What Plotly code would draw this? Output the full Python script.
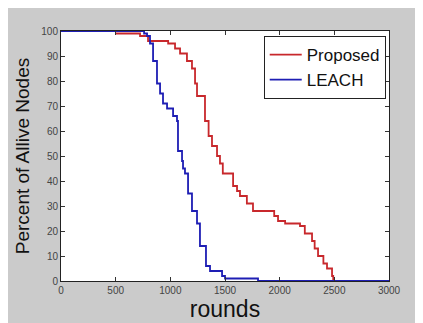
import plotly.graph_objects as go

proposed_rounds = [500, 723, 796, 980, 1043, 1089, 1152, 1198, 1226, 1244, 1317, 1350, 1381, 1427, 1454, 1480, 1528, 1574, 1610, 1637, 1700, 1756, 1912, 1950, 1985, 2050, 2113, 2186, 2230, 2296, 2320, 2351, 2400, 2433, 2479, 2490]
proposed_pct = [99, 98, 96, 95, 93, 91, 88, 85, 79, 74, 64, 58, 54, 50, 47, 43, 43, 38, 36, 34, 31, 28, 28, 26, 24, 23, 23, 22, 19, 16, 13, 10, 7, 5, 2, 0]

leach_rounds = [0, 760, 787, 814, 842, 878, 906, 933, 970, 1025, 1061, 1070, 1107, 1116, 1134, 1162, 1198, 1244, 1271, 1326, 1363, 1427, 1473, 1500, 1802, 3000]
leach_pct = [100, 99, 98, 95, 88, 79, 75, 71, 69, 66, 64, 52, 48, 45, 43, 35, 28, 23, 14, 6, 4, 4, 2, 1, 0, 0]

x_ticks = [0, 500, 1000, 1500, 2000, 2500, 3000]
y_ticks = [0, 10, 20, 30, 40, 50, 60, 70, 80, 90, 100]

fig = go.Figure()
fig.add_trace(go.Scatter(x=proposed_rounds, y=proposed_pct, mode="lines", name="Proposed",
                         line=dict(color="#c8282c", width=1.8, shape="hv")))
fig.add_trace(go.Scatter(x=leach_rounds, y=leach_pct, mode="lines", name="LEACH",
                         line=dict(color="#1e1eb4", width=1.8, shape="hv")))

tickfont = dict(family="Liberation Sans, Arial", size=10, color="#444444")
# page body has an 8px margin; figure sized so the plot lands where the reference has it
fig.update_layout(
    width=415, height=315,
    margin=dict(l=53, r=34, t=23, b=42),
    paper_bgcolor="#cbcbcb",
    plot_bgcolor="white",
    showlegend=True,
    legend=dict(x=0.99, y=0.98, xanchor="right", yanchor="top",
                bgcolor="white", bordercolor="#222222", borderwidth=1,
                font=dict(family="Liberation Sans, Arial", size=17, color="#111111"),
                tracegroupgap=0, itemwidth=32),
    xaxis=dict(range=[0, 3000], tickvals=x_ticks, ticks="inside", ticklen=4, tickcolor="#333",
               showgrid=False, zeroline=False, showline=True, linecolor="#222", linewidth=1, mirror="ticks",
               tickfont=tickfont, automargin=False,
               title=dict(text="rounds", font=dict(family="Liberation Sans, Arial", size=23, color="#111111"), standoff=2)),
    yaxis=dict(range=[0, 100], tickvals=y_ticks, ticks="inside", ticklen=4, tickcolor="#333",
               showgrid=False, zeroline=False, showline=True, linecolor="#222", linewidth=1, mirror="ticks",
               tickfont=tickfont, automargin=False,
               title=dict(text="Percent of Allive Nodes", font=dict(family="Liberation Sans, Arial", size=19, color="#111111"), standoff=6)),
)
fig.write_html("out.html")
